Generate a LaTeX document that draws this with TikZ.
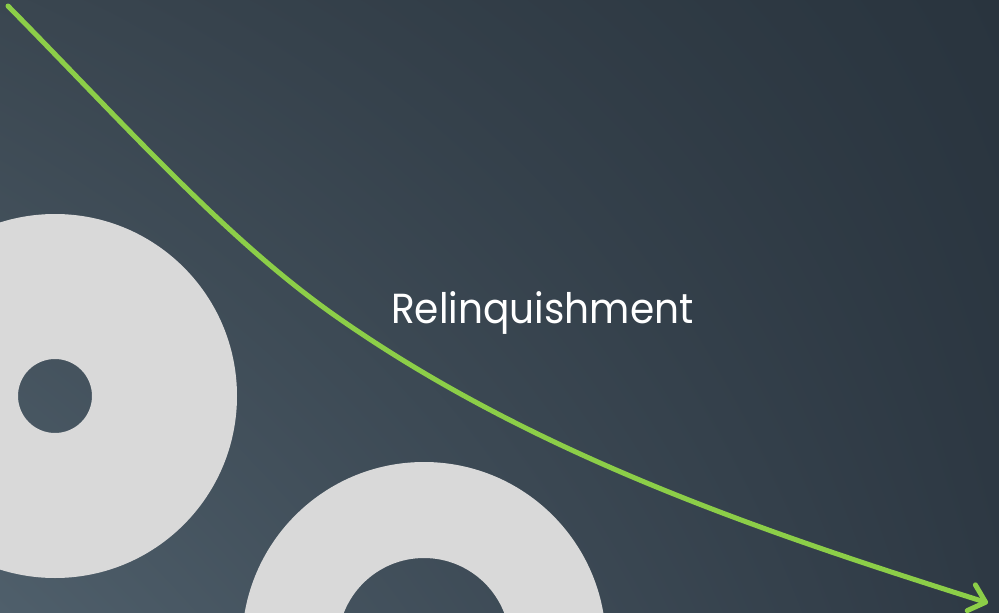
\documentclass[tikz,border=0pt]{standalone}
\usepackage{fontspec}
\newfontfamily\titlefont{Poppins}
\usetikzlibrary{arrows.meta,shadings}
\definecolor{bgTL}{HTML}{3A4650}
\definecolor{bgTR}{HTML}{29343E}
\definecolor{bgBL}{HTML}{4F5F6B}
\definecolor{bgBR}{HTML}{2E3944}
\definecolor{discgray}{HTML}{D9D9D9}
\definecolor{trendgreen}{RGB}{140,206,72}
\begin{document}
\begin{tikzpicture}[x=1pt,y=-1pt,
  disc/.style={fill=discgray, even odd rule},
  trend/.style={draw=trendgreen, line width=5pt, line cap=round,
    -{Straight Barb[length=15pt,width=27pt,line cap=round,line join=round]}},
  title/.style={text=white, font=\titlefont\fontsize{42}{50}\selectfont, anchor=base west, inner sep=0pt}]
\useasboundingbox (0,0) rectangle (999,613);
\clip (0,0) rectangle (999,613);
\shade[upper left=bgTL, upper right=bgTR, lower left=bgBL, lower right=bgBR] (0,0) rectangle (999,613);
\fill[disc] (55,396) circle[radius=182pt] (55,396) circle[radius=37pt];
\fill[disc] (424,644) circle[radius=182pt] (424,644) circle[radius=86pt];
\node[title] (label) at (391,323) {\scalebox{0.93}[1]{Relinquishment}};
\coordinate (s) at (8,6);
\coordinate (m) at (337,317);
\coordinate (e) at (988,603);
\draw[trend] (s) .. controls (128,128) and (227,240) .. (m) .. controls (537,457) and (770,534) .. (e);
\end{tikzpicture}
\end{document}
